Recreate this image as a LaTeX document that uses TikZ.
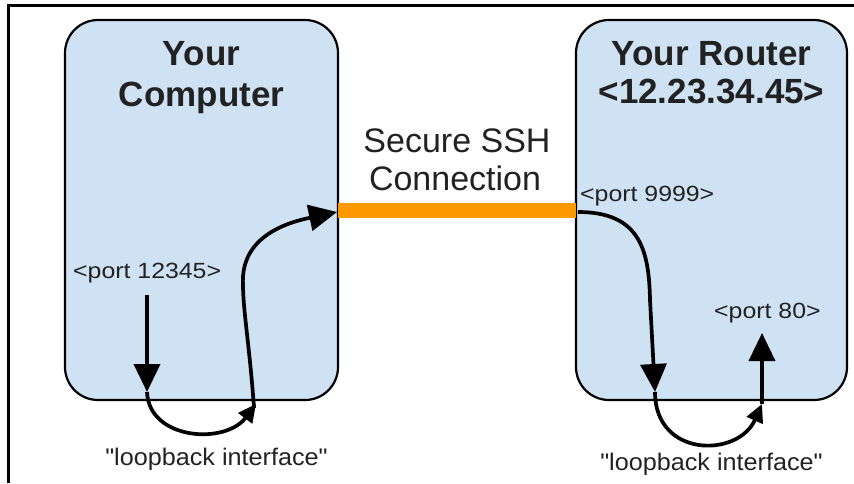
\documentclass[tikz,border=0pt]{standalone}
\usepackage{fontspec}
\setmainfont{Liberation Sans}[Ligatures=TeXOff]
\usetikzlibrary{arrows.meta}
\definecolor{boxblue}{HTML}{CFE2F3}
\definecolor{sshorange}{HTML}{FF9900}
\definecolor{txt}{HTML}{222222}
\begin{document}
\begin{tikzpicture}[x=1pt,y=-1pt,
  hostbox/.style={draw=black,line width=2.2pt,fill=boxblue,rounded corners=33pt,outer sep=0pt,inner sep=0pt},
  titletext/.style={anchor=base,inner sep=0pt,text=txt,font=\fontsize{35}{40}\selectfont\bfseries},
  sshtext/.style={anchor=base,inner sep=0pt,text=txt,font=\fontsize{34}{38}\selectfont},
  porttext/.style={anchor=base west,inner sep=0pt,text=txt,font=\fontsize{22}{26}\selectfont},
  looptext/.style={anchor=base,inner sep=0pt,text=txt,font=\fontsize{24}{28}\selectfont},
  flow/.style={line width=3.7pt,black},
  bigtip/.style={-{Triangle[length=28pt,width=26pt]}},
  smalltip/.style={-{Triangle[length=18pt,width=17pt]}},
  sshline/.style={line width=15pt,sshorange},
  frameline/.style={line width=2.5pt,black}
]
\useasboundingbox (0,0) rectangle (854,483);
% frame
\coordinate (f1) at (854,5.3);
\coordinate (f2) at (8.7,5.3);
\coordinate (f3) at (8.7,483);
\draw[frameline] (f1) -- (f2) -- (f3);
% hosts
\node[hostbox,minimum width=273pt,minimum height=380pt] (comp) at (201.5,210) {};
\node[hostbox,minimum width=271pt,minimum height=380pt] (router) at (711.5,210) {};
% titles
\node[titletext] (c1) at (201.5,65) {Your};
\node[titletext] (c2) at (201.5,106) {Computer};
\node[titletext] (r1) at (711.5,65) {Your Router};
\node[titletext] (r2) at (711.5,103) {<12.23.34.45>};
\node[sshtext] (s1) at (457,152) {Secure SSH};
\node[sshtext] (s2) at (455,190) {Connection};
% ssh line
\draw[sshline] (comp.east) -- (router.west);
% port labels
\node[porttext] (p12345) at (73,278) {\scalebox{1.13}[1]{<port 12345>}};
\node[porttext] (p9999) at (580,201) {\scalebox{1.13}[1]{<port 9999>}};
\node[porttext] (p80) at (714,318) {\scalebox{1.13}[1]{<port 80>}};
\node[looptext] (l1) at (216.5,465) {\scalebox{1.05}[1]{"loopback interface"}};
\node[looptext] (l2) at (711.5,470) {\scalebox{1.05}[1]{"loopback interface"}};
% left side path points
\coordinate (a1) at (147,295);
\coordinate (a2) at (147,392);
\coordinate (a3) at (256,404);
\coordinate (a4) at (254,408);
\coordinate (a5) at (243,285);
\coordinate (a6) at (337,212);
% right side path points
\coordinate (b1) at (578,212);
\coordinate (b2) at (650,300);
\coordinate (b3) at (655,392);
\coordinate (b4) at (762,404);
\coordinate (b5) at (762,333);
% left arrows
\draw[flow,bigtip] (a1) -- (a2);
\draw[flow,smalltip] (a2) .. controls (149,440) and (225,445) .. (a3);
\draw[flow,bigtip] (a4) .. controls (250,350) and (243,310) .. (a5)
   .. controls (240,235) and (290,222) .. (a6);
% right arrows
\draw[flow,bigtip] (b1) .. controls (640,212) and (649,250) .. (b2) -- (b3);
\draw[flow,smalltip] (b3) .. controls (655,458) and (738,458) .. (b4);
\draw[flow,bigtip] (b4) -- (b5);
\end{tikzpicture}
\end{document}
